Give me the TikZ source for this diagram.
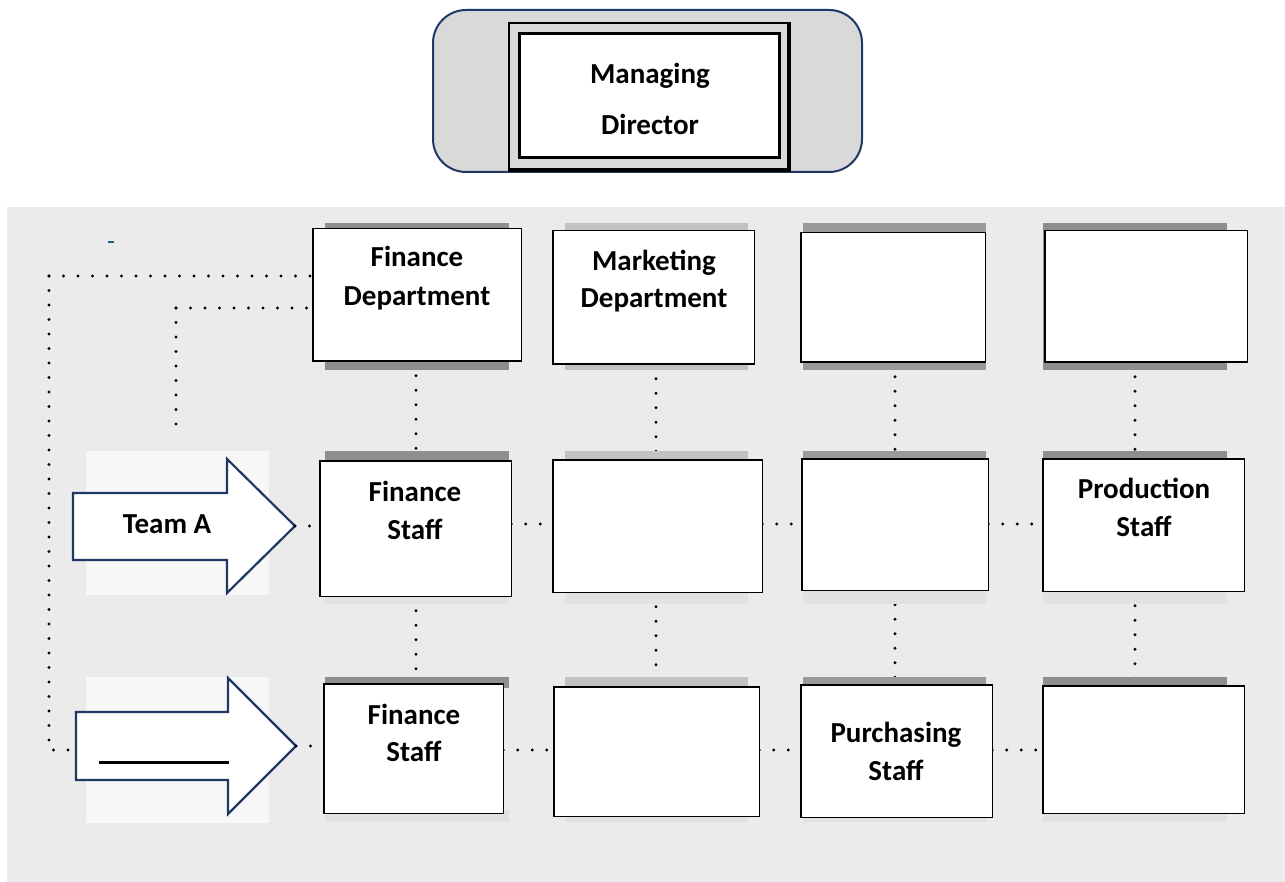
\documentclass[tikz,border=0pt]{standalone}
\usepackage{fontspec}
\setmainfont{Carlito}
\definecolor{navy}{HTML}{1F3864}
\definecolor{mdgrey}{HTML}{D9D9D9}
\definecolor{panel}{HTML}{EBEBEB}
\definecolor{pale}{HTML}{F7F7F7}
\definecolor{shdark}{HTML}{8E8E8E}
\definecolor{shmid}{HTML}{9A9A9A}
\definecolor{shlight}{HTML}{C2C2C2}
\definecolor{shfaint}{HTML}{E2E2E2}
\definecolor{dashblue}{HTML}{1F5F80}
\begin{document}
\begin{tikzpicture}[x=1pt,y=-1pt,
  bx/.style={draw=black, line width=1.4pt, fill=white, inner sep=0pt},
  dots/.style={line width=3.2pt, line cap=round, dash pattern=on 0pt off 14.5pt, black},
  lbl/.style={font=\bfseries\fontsize{29}{38}\selectfont, align=center, inner sep=0pt},
  blockarrow/.style={draw=navy, line width=2.2pt, fill=white, line join=miter}]
\useasboundingbox (0,0) rectangle (1285,882);
% background panel
\fill[panel] (7,207) rectangle (1285,882);
\fill[pale] (86,451) rectangle (269,595);
\fill[pale] (86,677) rectangle (269,823);
\draw[dashblue, line width=2pt] (108,242) -- (114,242);

% top: managing director
\node[draw=navy, line width=2pt, fill=mdgrey, rounded corners=33pt,
      minimum width=429pt, minimum height=162pt] (mdframe) at (647.5,91) {};
\fill[mdgrey] (509,23) rectangle (791,172);
\draw[black, line width=1.5pt] (509,172) -- (509,23) -- (791,23);
\draw[black, line width=4pt] (789,23) -- (789,170) -- (509,170);
\node[draw=black, line width=3.5pt, fill=white, minimum width=260pt, minimum height=124pt] (md) at (649.5,95.5) {};
\node[font=\bfseries\fontsize{29}{51}\selectfont, align=center, inner sep=0pt] (mdtext) at (650,99) {Managing\\Director};

% columns and rows
\coordinate (c1) at (416,0);
\coordinate (c2) at (656,0);
\coordinate (c3) at (895,0);
\coordinate (c4) at (1135,0);
\coordinate (r2) at (0,524);
\coordinate (r3) at (0,750);

% boxes (named first, drawn later)
\path node[minimum width=208pt, minimum height=132pt] (b11) at (417,295) {}
      node[minimum width=201pt, minimum height=133pt] (b12) at (653.5,297.5) {}
      node[minimum width=184pt, minimum height=129pt] (b13) at (893,297.5) {}
      node[minimum width=202pt, minimum height=131pt] (b14) at (1146,296.5) {}
      node[minimum width=191pt, minimum height=135pt] (b21) at (415.5,528.5) {}
      node[minimum width=209pt, minimum height=132pt] (b22) at (657.5,526) {}
      node[minimum width=186pt, minimum height=131pt] (b23) at (895,524.5) {}
      node[minimum width=201pt, minimum height=132pt] (b24) at (1143.5,525) {}
      node[minimum width=179pt, minimum height=129pt] (b31) at (413.5,748.5) {}
      node[minimum width=205pt, minimum height=129pt] (b32) at (656.5,751.5) {}
      node[minimum width=191pt, minimum height=132pt] (b33) at (896.5,751) {}
      node[minimum width=201pt, minimum height=127pt] (b34) at (1143.5,749.5) {};

% arrows
\draw[blockarrow] (73,493) -- (227,493) -- (227,459) -- (295,526) -- (227,593) -- (227,560) -- (73,560) -- cycle;
\coordinate (a1tip) at (295,526);
\node[lbl] (teama) at (167,524) {Team A};
\draw[blockarrow] (76,712) -- (228,712) -- (228,678) -- (296,746) -- (228,814) -- (228,780) -- (76,780) -- cycle;
\coordinate (a2tip) at (296,746);
\coordinate (a2w) at (76,750);
\draw[black, line width=3pt] (99,762) -- (229,762);

% connectors
\coordinate (o1) at (49,276);
\coordinate (i1) at (176,308);
\coordinate (iend) at (176,437);
\draw[dots] (o1) -- (b11.west |- o1);
\draw[dots] (o1) -- (o1 |- a2w) -- (a2w);
\draw[dots] (i1) -- (b11.west |- i1);
\draw[dots] (i1) -- (iend);
\foreach \c/\u/\m/\l in {c1/b11/b21/b31, c2/b12/b22/b32, c3/b13/b23/b33, c4/b14/b24/b34}{
  \draw[dots] (\c |- \u.south) -- (\c |- \m.north);
  \draw[dots] (\c |- \m.south) -- (\c |- \l.north);
}
\draw[dots] (a1tip) -- (b21.west |- a1tip);
\draw[dots] (b21.east |- r2) -- (b22.west |- r2);
\draw[dots] (b22.east |- r2) -- (b23.west |- r2);
\draw[dots] (b23.east |- r2) -- (b24.west |- r2);
\draw[dots] (a2tip) -- (b31.west |- a2tip);
\draw[dots] (b31.east |- r3) -- (b32.west |- r3);
\draw[dots] (b32.east |- r3) -- (b33.west |- r3);
\draw[dots] (b33.east |- r3) -- (b34.west |- r3);

% shadows
\fill[shdark]  (325,223) rectangle (509,370);
\fill[shlight] (565,223) rectangle (748,370);
\fill[shmid]   (803,223) rectangle (986,370);
\fill[shdark]  (1043,223) rectangle (1227,370);
\foreach \xa/\xb/\col in {325/509/shdark, 565/748/shlight, 803/986/shmid, 1043/1227/shdark}{
  \fill[\col] (\xa,451) rectangle (\xb,462);
  \fill[\col] (\xa,677) rectangle (\xb,688);
  \fill[shfaint] (\xa,588) rectangle (\xb,604);
  \fill[shfaint] (\xa,810) rectangle (\xb,822);
}

% visible boxes
\foreach \n in {b11,b12,b13,b14,b21,b22,b23,b24,b31,b32,b33,b34}{
  \draw[bx] (\n.north west) rectangle (\n.south east);
}

% labels
\node[lbl, font=\bfseries\fontsize{29}{39}\selectfont] (t11) at (417,278) {Finance\\Department};
\node[lbl, font=\bfseries\fontsize{29}{37}\selectfont] (t12) at (654,281) {Marketing\\Department};
\node[lbl] (t21) at (415,510) {Finance\\Staff};
\node[lbl] (t24) at (1144,507) {Production\\Staff};
\node[lbl, font=\bfseries\fontsize{29}{37}\selectfont] (t31) at (414,733) {Finance\\Staff};
\node[lbl] (t33) at (896,751) {Purchasing\\Staff};
\end{tikzpicture}
\end{document}
